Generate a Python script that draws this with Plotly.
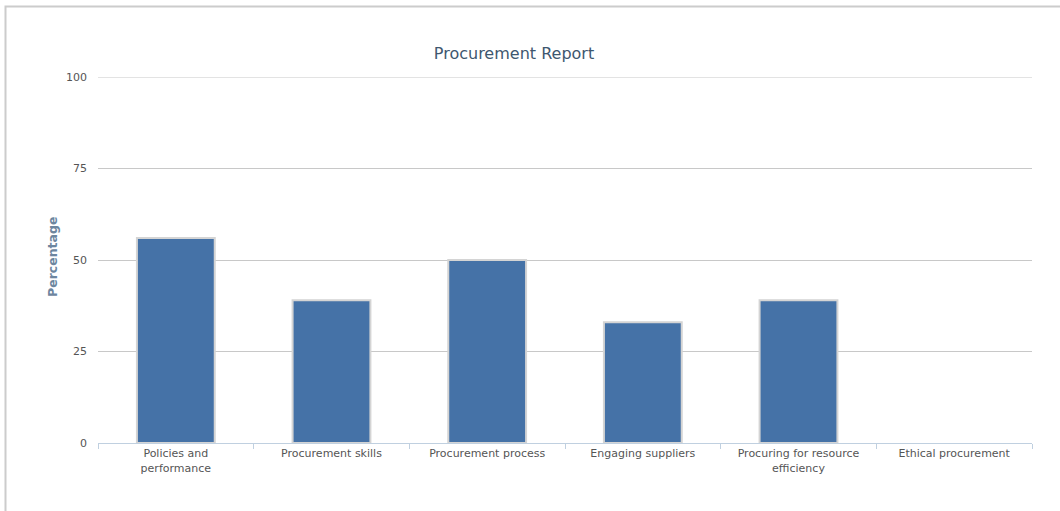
import plotly.graph_objects as go

categories = [
    "Policies and<br>performance",
    "Procurement skills",
    "Procurement process",
    "Engaging suppliers",
    "Procuring for resource<br>efficiency",
    "Ethical procurement",
]
percentages = [56, 39, 50, 33, 39, 0]
y_ticks = [0, 25, 50, 75, 100]

W, H = 1060, 511
L, R, T, B = 98, 28, 77, 68
plot_w = W - L - R
plot_h = H - T - B

FONT = "DejaVu Sans"
GRID = "#C8C8C8"

# empty bars get no outline
outline_widths = [2 if v > 0 else 0 for v in percentages]

fig = go.Figure(
    go.Bar(
        x=categories,
        y=percentages,
        marker=dict(color="#4572A7", line=dict(color="#d4d4d4", width=outline_widths)),
        hoverinfo="x+y",
    )
)

fig.update_layout(
    width=W,
    height=H,
    margin=dict(l=L, r=R, t=T, b=B, pad=0),
    paper_bgcolor="white",
    plot_bgcolor="white",
    bargap=0.5,
    showlegend=False,
    title=dict(
        text="Procurement Report",
        x=514 / W,
        xanchor="center",
        xref="container",
        y=1 - 53 / H,
        yref="container",
        yanchor="middle",
        font=dict(family=FONT, size=16, color="#3E576F"),
    ),
    font=dict(family=FONT),
)

fig.update_xaxes(
    type="category",
    showgrid=False,
    showline=True,
    linecolor="#C0D0E0",
    linewidth=1,
    ticks="outside",
    tickson="boundaries",
    ticklen=5,
    tickcolor="#C0D0E0",
    tickfont=dict(family=FONT, size=11, color="#555555"),
)

fig.update_yaxes(
    range=[y_ticks[0], y_ticks[-1]],
    tickvals=y_ticks,
    showgrid=True,
    gridcolor=GRID,
    gridwidth=1,
    zeroline=False,
    showline=False,
    ticks="",
    ticklabelstandoff=10,
    tickfont=dict(family=FONT, size=11, color="#555555"),
)

# top gridline sits on the plot edge, so draw it explicitly
fig.add_hline(y=y_ticks[-1], line=dict(color=GRID, width=1), layer="below")

# y-axis title
fig.add_annotation(
    text="<b>Percentage</b>",
    textangle=-90,
    xref="paper",
    yref="paper",
    x=(52 - L) / plot_w,
    y=(H - B - 257) / plot_h,
    xanchor="center",
    yanchor="middle",
    showarrow=False,
    font=dict(family=FONT, size=12.5, color="#6D869F"),
)

# chart container border
fig.add_shape(
    type="rect",
    xref="paper",
    yref="paper",
    x0=(5.5 - L) / plot_w,
    x1=(W + 20 - L) / plot_w,
    y0=(H - B - (H + 20)) / plot_h,
    y1=(H - B - 6.5) / plot_h,
    line=dict(color="#CCCCCC", width=2),
    fillcolor="rgba(0,0,0,0)",
    layer="below",
)

fig.write_html("out.html")
